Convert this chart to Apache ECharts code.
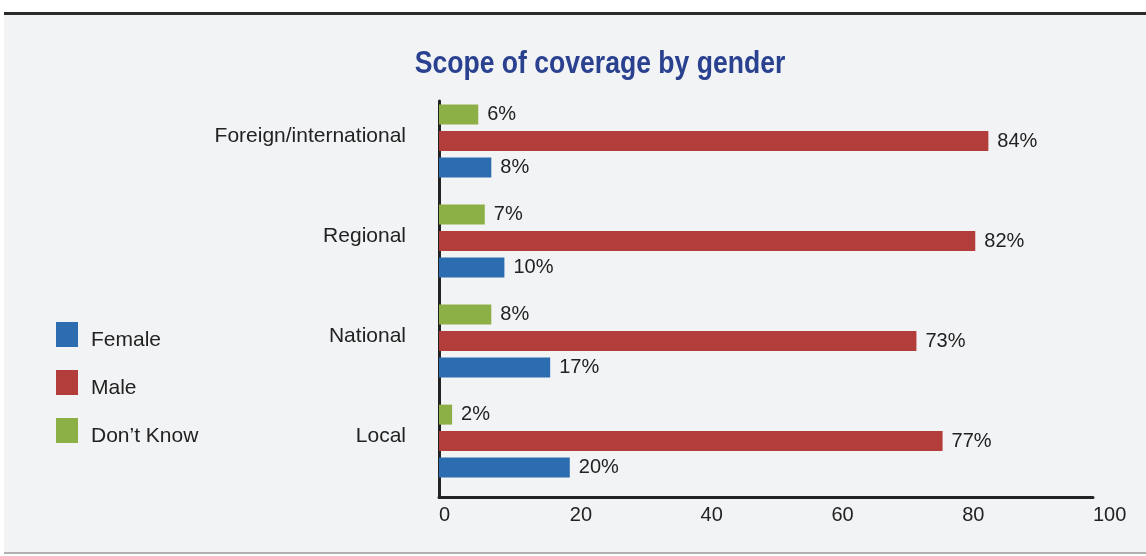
<!DOCTYPE html>
<html>
<head>
<meta charset="utf-8">
<style>
  html, body { margin: 0; padding: 0; background: #ffffff; }
  #chart { width: 1146px; height: 556px; }
</style>
<script src="https://cdn.jsdelivr.net/npm/echarts@6/dist/echarts.min.js"></script>
</head>
<body>
<div id="chart"></div>
<script>
// Scope of coverage, share of respondents (%) by gender
const categories = ['Local', 'National', 'Regional', 'Foreign/international'];
const female = [20, 17, 10, 8];
const male = [77, 73, 82, 84];
const dontKnow = [2, 8, 7, 6];
const xTicks = [0, 20, 40, 60, 80, 100];
const legendNames = ['Female', 'Male', 'Don\u2019t Know'];

const FONT = '"Liberation Sans", Arial, Helvetica, sans-serif';
const TEXT = '#222222';

const chart = echarts.init(document.getElementById('chart'));

// Bars are drawn top-down within each category: Don't Know, Male, Female.
function barSeries(name, values, color) {
  return {
    name: name,
    type: 'bar',
    xAxisIndex: 1,
    yAxisIndex: 1,
    data: values,
    barWidth: 20,
    barGap: '32%',
    barCategoryGap: '26%',
    itemStyle: { color: color },
    label: {
      show: true,
      position: 'right',
      distance: 9,
      formatter: '{c}%',
      fontFamily: FONT,
      fontSize: 20,
      color: TEXT
    }
  };
}

const gridBox = { left: 439, right: 53 };

chart.setOption({
  backgroundColor: '#ffffff',
  animation: false,
  graphic: [
    { type: 'rect', z: -10, shape: { x: 4, y: 14, width: 1142, height: 539 }, style: { fill: '#f2f3f5' } },
    { type: 'rect', z: -9, shape: { x: 4, y: 12, width: 1142, height: 3 }, style: { fill: '#2b2b2b' } },
    { type: 'rect', z: -9, shape: { x: 4, y: 552, width: 1142, height: 2 }, style: { fill: '#b0b0b0' } },
    {
      type: 'text',
      x: 600,
      y: 64,
      scaleX: 0.83,
      originX: 0,
      originY: 0,
      style: {
        text: 'Scope of coverage by gender',
        fontFamily: FONT,
        fontWeight: 'bold',
        fontSize: 32,
        fill: '#2a4190',
        align: 'center',
        verticalAlign: 'middle'
      }
    }
  ],
  legend: {
    orient: 'vertical',
    left: 56,
    top: 322,
    padding: 0,
    itemWidth: 22,
    itemHeight: 25,
    itemGap: 19,
    icon: 'rect',
    data: legendNames,
    formatter: '{t|{name}}',
    textStyle: {
      fontFamily: FONT,
      fontSize: 21,
      color: TEXT,
      rich: {
        t: { fontFamily: FONT, fontSize: 21, color: TEXT, padding: [12, 0, 0, 8] }
      }
    }
  },
  // grid 0 carries the axis frame, grid 1 carries the bars and category labels
  grid: [
    { left: gridBox.left, right: gridBox.right, top: 101, bottom: 59 },
    { left: gridBox.left, right: gridBox.right, top: 91, bottom: 65 }
  ],
  xAxis: [
    {
      type: 'value',
      gridIndex: 0,
      min: xTicks[0],
      max: xTicks[xTicks.length - 1],
      interval: 20,
      axisLine: { show: true, lineStyle: { color: TEXT, width: 3 } },
      axisTick: { show: false },
      splitLine: { show: false },
      axisLabel: {
        fontFamily: FONT,
        fontSize: 20,
        color: TEXT,
        margin: 8,
        align: 'left',
        formatter: function (v) { return xTicks.indexOf(v) >= 0 ? String(v) : ''; }
      }
    },
    {
      type: 'value',
      gridIndex: 1,
      min: xTicks[0],
      max: xTicks[xTicks.length - 1],
      interval: 20,
      show: false
    }
  ],
  yAxis: [
    {
      type: 'category',
      gridIndex: 0,
      data: categories,
      axisLine: { show: true, lineStyle: { color: TEXT, width: 3 } },
      axisTick: { show: false },
      axisLabel: { show: false }
    },
    {
      type: 'category',
      gridIndex: 1,
      data: categories,
      axisLine: { show: false },
      axisTick: { show: false },
      axisLabel: {
        margin: 33,
        formatter: '{c|{value}}',
        rich: {
          c: { fontFamily: FONT, fontSize: 21, color: TEXT, padding: [0, 0, 9, 0] }
        }
      }
    }
  ],
  series: [
    barSeries('Don\u2019t Know', dontKnow, '#8db046'),
    barSeries('Male', male, '#b33d3b'),
    barSeries('Female', female, '#2c6db1')
  ]
});
</script>
</body>
</html>
